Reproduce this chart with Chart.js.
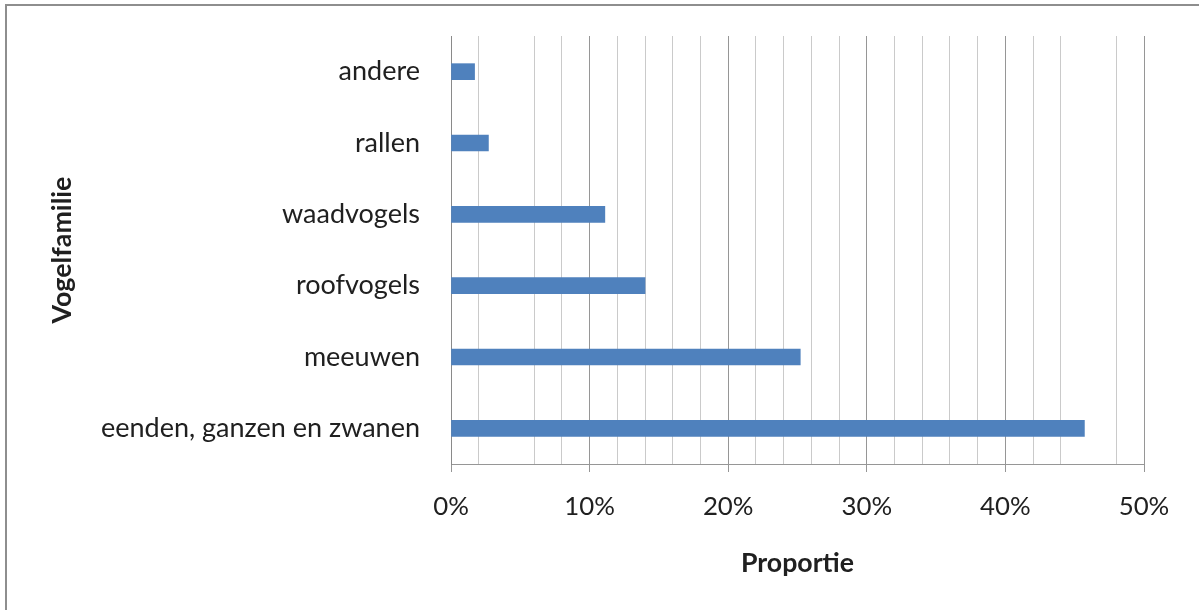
<!DOCTYPE html>
<html>
<head>
<meta charset="utf-8">
<script src="https://cdn.jsdelivr.net/npm/chart.js@4/dist/chart.umd.min.js"></script>
<style>
  html, body { margin: 0; padding: 0; background: #fff; }
  canvas { display: block; }
</style>
</head>
<body>
<canvas id="c" width="1199" height="610"></canvas>
<script>
// ---- data ----
const categories = ['andere', 'rallen', 'waadvogels', 'roofvogels', 'meeuwen', 'eenden, ganzen en zwanen'];
const proportions = [1.7, 2.7, 11.1, 14.0, 25.2, 45.7];
const xTickValues = [0, 10, 20, 30, 40, 50];
const xTickLabels = ['0%', '10%', '20%', '30%', '40%', '50%'];
const xAxisTitle = 'Proportie';
const yAxisTitle = 'Vogelfamilie';
const hiddenMinorLines = [4, 46];

// ---- font sizing (Lato fitted to the reference text widths) ----
const FAMILY = 'Lato, "Open Sans", "DejaVu Sans", sans-serif';
const mctx = document.createElement('canvas').getContext('2d');
function fit(text, weight, target) {
  mctx.font = weight + ' 100px ' + FAMILY;
  return Math.round(100 * target / mctx.measureText(text).width * 10) / 10;
}
const catSize = fit('eenden, ganzen en zwanen', 'normal', 319);
const tickSize = fit('50%', 'normal', 50.7);
const xTitleSize = fit(xAxisTitle, 'bold', 113);
const yTitleSize = fit(yAxisTitle, 'bold', 147);

const frame = {
  id: 'frame',
  beforeDraw(chart) {
    const ctx = chart.ctx;
    ctx.save();
    ctx.fillStyle = '#8e8e8e';
    ctx.fillRect(5, 4, 1194, 2);
    ctx.fillRect(5, 4, 2, 606);
    ctx.restore();
  }
};

const TEXT = '#202020';
const MAJOR = '#969696';
const MINOR = '#cacaca';

new Chart(document.getElementById('c'), {
  type: 'bar',
  data: {
    labels: categories,
    datasets: [{
      data: proportions,
      backgroundColor: '#4f81bd',
      borderWidth: 0,
      barThickness: 16
    }]
  },
  plugins: [frame],
  options: {
    indexAxis: 'y',
    responsive: false,
    animation: false,
    devicePixelRatio: 1,
    layout: { padding: { left: 0, top: 36, right: 55, bottom: 0 } },
    plugins: { legend: { display: false }, tooltip: { enabled: false } },
    scales: {
      x: {
        type: 'linear',
        min: 0,
        max: 50,
        afterFit(s) { s.height = 146; s.paddingLeft = 0; s.paddingRight = 0; },
        ticks: {
          stepSize: 2,
          autoSkip: false,
          maxRotation: 0,
          padding: 507 - 472 - tickSize * 0.6,
          color: TEXT,
          font: { family: FAMILY, size: tickSize },
          callback(v) {
            const i = xTickValues.indexOf(v);
            return i >= 0 ? xTickLabels[i] : '';
          }
        },
        grid: {
          drawTicks: true,
          tickLength: 8,
          lineWidth: 1,
          color(ctx) {
            if (!ctx.tick) return MINOR;
            const v = ctx.tick.value;
            if (xTickValues.includes(v)) return MAJOR;
            if (hiddenMinorLines.includes(v)) return 'rgba(0,0,0,0)';
            return MINOR;
          },
          tickColor(ctx) {
            if (!ctx.tick) return 'rgba(0,0,0,0)';
            return xTickValues.includes(ctx.tick.value) ? MAJOR : 'rgba(0,0,0,0)';
          }
        },
        border: { display: true, color: MAJOR, width: 1 },
        title: {
          display: true,
          text: xAxisTitle,
          color: TEXT,
          font: { family: FAMILY, size: xTitleSize, weight: 'bold', lineHeight: 1.2 },
          padding: { top: 0, bottom: 610 - 563 - xTitleSize * 0.6 }
        }
      },
      y: {
        afterFit(s) { s.width = 451; s.paddingTop = 0; s.paddingBottom = 0; },
        grid: { display: false, drawTicks: false, tickLength: 0 },
        border: { display: true, color: '#8a8a8a', width: 1 },
        ticks: {
          padding: 31,
          color: TEXT,
          font: { family: FAMILY, size: catSize }
        },
        title: {
          display: true,
          text: yAxisTitle,
          color: TEXT,
          font: { family: FAMILY, size: yTitleSize, weight: 'bold', lineHeight: 1.2 },
          padding: { top: 62 - yTitleSize * 0.6, bottom: 0 }
        }
      }
    }
  }
});
</script>
</body>
</html>
